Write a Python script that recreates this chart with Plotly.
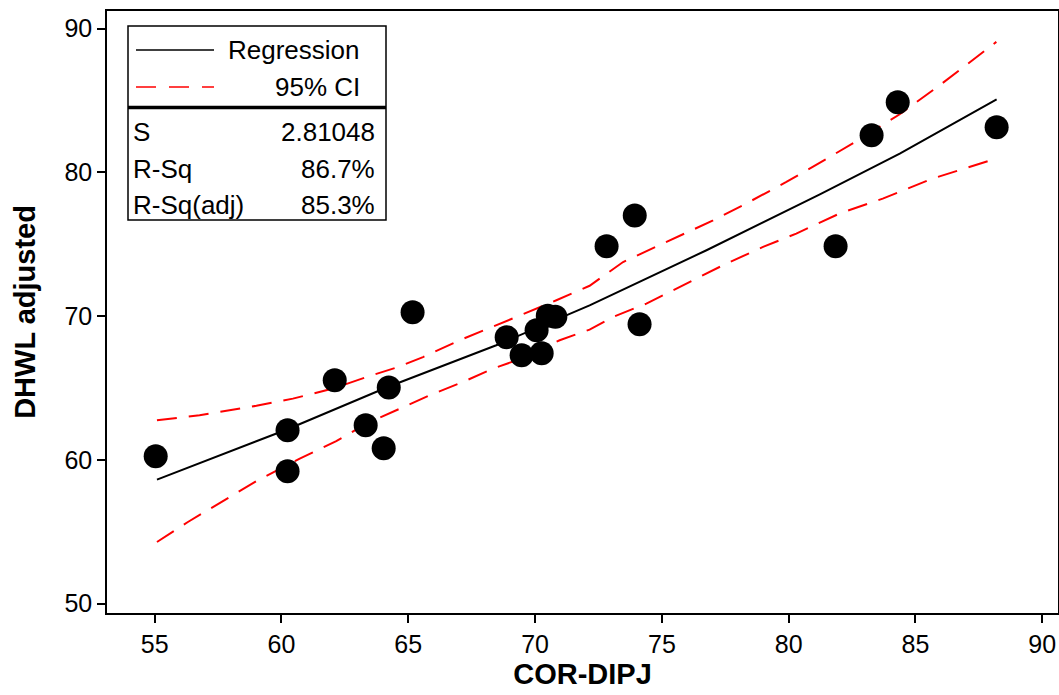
import plotly.graph_objects as go

# ---- data ----
cor_dipj = [55.04, 60.24, 60.24, 62.10, 63.32, 64.03, 64.23, 65.17,
            68.88, 69.47, 70.06, 70.26, 70.50, 70.80,
            72.82, 73.93, 74.12, 81.85, 83.27, 84.30, 88.20]
dhwl_adjusted = [60.25, 62.06, 59.21, 65.54, 62.41, 60.81, 65.03, 70.27,
                 68.53, 67.28, 69.01, 67.41, 70.02, 69.95,
                 74.86, 77.00, 69.43, 74.86, 82.58, 84.87, 83.13]

fit_x = [55.09, 60.24, 64.19, 68.47, 72.15, 76.76, 81.23, 84.38, 88.20]
fit_y = [58.63, 62.13, 65.07, 67.97, 70.75, 74.58, 78.47, 81.30, 85.08]

ci_upper_x = [55.09, 56.77, 59.01, 60.45, 62.03, 63.35, 64.53, 65.58, 67.03, 68.08,
              69.26, 70.84, 72.15, 73.47, 75.18, 77.02, 78.20, 79.91, 81.62, 82.73,
              84.38, 85.96, 88.19]
ci_upper_y = [62.75, 63.10, 63.76, 64.26, 64.96, 65.76, 66.42, 67.15, 68.32, 69.06,
              69.94, 71.10, 72.11, 73.76, 75.15, 76.66, 77.71, 79.33, 81.07, 82.23,
              84.04, 86.06, 89.07]

ci_lower_x = [55.09, 56.31, 57.96, 59.07, 60.72, 62.16, 63.35, 64.93, 65.84, 67.16,
              68.34, 69.26, 70.97, 72.15, 73.07, 74.39, 76.23, 77.54, 78.99, 80.30,
              82.00, 83.71, 85.68, 88.19]
ci_lower_y = [54.29, 55.68, 57.42, 58.58, 60.09, 61.31, 62.52, 63.79, 64.49, 65.42,
              66.35, 66.92, 68.32, 69.06, 69.94, 70.87, 72.49, 73.65, 74.81, 75.74,
              77.13, 78.17, 79.57, 80.96]

stat_labels = ["S", "R-Sq", "R-Sq(adj)"]
stat_values = ["2.81048", "86.7%", "85.3%"]
legend_labels = ["Regression", "95% CI"]

x_ticks = [55, 60, 65, 70, 75, 80, 85, 90]
y_ticks = [50, 60, 70, 80, 90]

# ---- layout geometry (pixels) ----
W, H = 1059, 695
L, R, T, B = 107, 1, 11, 82
PW, PH = W - L - R, H - T - B


def xp(px):
    return (px - L) / PW


def yp(py):
    return (H - B - py) / PH


FONT = "Liberation Sans, Arial, sans-serif"

fig = go.Figure()

fig.add_trace(go.Scatter(x=ci_upper_x, y=ci_upper_y, mode="lines",
                         line=dict(color="#ff0000", width=2, dash="20px,12px"),
                         showlegend=False, hoverinfo="skip"))
fig.add_trace(go.Scatter(x=ci_lower_x, y=ci_lower_y, mode="lines",
                         line=dict(color="#ff0000", width=2, dash="20px,12px"),
                         showlegend=False, hoverinfo="skip"))
fig.add_trace(go.Scatter(x=fit_x, y=fit_y, mode="lines",
                         line=dict(color="black", width=2),
                         showlegend=False))
fig.add_trace(go.Scatter(x=cor_dipj, y=dhwl_adjusted, mode="markers",
                         marker=dict(color="black", size=24, line=dict(width=0)),
                         showlegend=False))

shapes = []
# legend box
shapes.append(dict(type="rect", xref="paper", yref="paper",
                   x0=xp(128), x1=xp(386), y0=yp(26), y1=yp(220),
                   line=dict(color="black", width=1.5), fillcolor="white", layer="above"))
shapes.append(dict(type="line", xref="paper", yref="paper",
                   x0=xp(128), x1=xp(386), y0=yp(107.5), y1=yp(107.5),
                   line=dict(color="black", width=3.5), layer="above"))
shapes.append(dict(type="line", xref="paper", yref="paper",
                   x0=xp(136), x1=xp(214), y0=yp(50), y1=yp(50),
                   line=dict(color="black", width=1.5), layer="above"))
shapes.append(dict(type="line", xref="paper", yref="paper",
                   x0=xp(136), x1=xp(214), y0=yp(87), y1=yp(87),
                   line=dict(color="#ff0000", width=1.5, dash="20px,13px"), layer="above"))

annotations = []
for lab, py in zip(legend_labels, [50, 87]):
    annotations.append(dict(text=lab, xref="paper", yref="paper", x=xp(362), y=yp(py),
                            xanchor="right", yanchor="middle", showarrow=False,
                            font=dict(family=FONT, size=26, color="black")))
for lab, val, py in zip(stat_labels, stat_values, [132, 169, 205]):
    annotations.append(dict(text=lab, xref="paper", yref="paper", x=xp(131), y=yp(py),
                            xanchor="left", yanchor="middle", showarrow=False,
                            font=dict(family=FONT, size=26, color="black")))
    annotations.append(dict(text=val, xref="paper", yref="paper", x=xp(377), y=yp(py),
                            xanchor="right", yanchor="middle", showarrow=False,
                            font=dict(family=FONT, size=26, color="black")))

fig.update_layout(
    width=W, height=H,
    margin=dict(l=L, r=R, t=T, b=B, pad=0),
    paper_bgcolor="white", plot_bgcolor="white",
    shapes=shapes, annotations=annotations,
    font=dict(family=FONT, color="black"),
    xaxis=dict(range=[53.12, 90.62], tickvals=x_ticks, ticks="outside", ticklen=8,
               tickwidth=1.5, tickcolor="black", showline=True, linecolor="black",
               linewidth=1.5, mirror=True, showgrid=False, zeroline=False,
               automargin=False,
               tickfont=dict(family=FONT, size=25, color="black"),
               title=dict(text="<b>COR-DIPJ</b>", standoff=4,
                          font=dict(family=FONT, size=29, color="black"))),
    yaxis=dict(range=[49.35, 91.22], tickvals=y_ticks, ticks="outside", ticklen=8,
               tickwidth=1.5, tickcolor="black", showline=True, linecolor="black",
               linewidth=1.5, mirror=True, showgrid=False, zeroline=False,
               automargin=False,
               tickfont=dict(family=FONT, size=25, color="black"),
               title=dict(text="<b>DHWL adjusted</b>", standoff=20,
                          font=dict(family=FONT, size=29, color="black"))),
)

fig.write_html("out.html",
               config={"displayModeBar": False},
               post_script="document.body.style.margin='0';document.body.style.padding='0';"
                           "document.documentElement.style.overflow='hidden';")
